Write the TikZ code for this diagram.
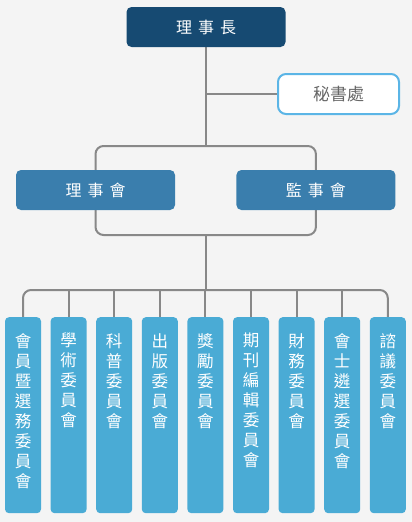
\documentclass[tikz,border=0pt]{standalone}
\usepackage{fontspec}
\setmainfont{Noto Sans CJK TC}
\usetikzlibrary{positioning}
\definecolor{navy}{HTML}{164A72}
\definecolor{council}{HTML}{3A7EAD}
\definecolor{cmte}{HTML}{4AABD5}
\definecolor{wirecol}{HTML}{888888}
\definecolor{paper}{HTML}{F4F4F4}
\definecolor{ring}{HTML}{5BB5E6}
\definecolor{ink}{HTML}{666666}
\pgfdeclarelayer{back}
\pgfsetlayers{back,main}
\tikzstyle{head}=[rectangle,rounded corners=5pt,fill=navy,text=white,minimum width=159pt,minimum height=40pt,font=\fontsize{16}{18}\selectfont]
\tikzstyle{board}=[head,fill=council]
\tikzstyle{office}=[rectangle,rounded corners=8pt,draw=ring,line width=2pt,fill=white,text=ink,minimum width=121pt,minimum height=40pt,font=\fontsize{17}{18}\selectfont]
\tikzstyle{cmtebox}=[rectangle,rounded corners=4pt,fill=cmte,text=white,inner sep=0pt,anchor=north,font=\fontsize{16.5}{20}\selectfont]
\tikzstyle{link}=[draw=wirecol,line width=2pt]
\newcommand{\gap}{\hspace{6pt}}
\newcommand{\vtxt}[1]{\parbox[t][196pt][t]{36pt}{\centering\vspace*{16pt}#1}}

\begin{document}
\begin{tikzpicture}[x=1pt,y=-1pt]
    \node[head] (chair) at (206,27) {理\gap 事\gap 長};
    \node[office] (sec) at (338.5,94) {秘書處};
    \node[board] (bod) at (95.5,190) {理\gap 事\gap 會};
    \node[board, right=61pt of bod] (sup) {監\gap 事\gap 會};
    \coordinate (top) at (206,146);
    \coordinate (bot) at (206,235);
    \coordinate (bus) at (206,290);
    \foreach \txt [count=\i] in {會\\員\\暨\\選\\務\\委\\員\\會, 學\\術\\委\\員\\會,
        科\\普\\委\\員\\會, 出\\版\\委\\員\\會, 獎\\勵\\委\\員\\會,
        期\\刊\\編\\輯\\委\\員\\會, 財\\務\\委\\員\\會,
        會\\士\\遴\\選\\委\\員\\會, 諮\\議\\委\\員\\會}
        \node[cmtebox] (c\i) at ({23+45.6*(\i-1)},317) {\vtxt{\txt}};
    \begin{pgfonlayer}{back}
        \fill[paper] (0,0) rectangle (412,522);
        \draw[link] (chair) -- (top);
        \draw[link] (chair.south |- sec) -- (sec);
        \draw[link, rounded corners=8pt] (top) -| (bod.center) |- (bot) -| (sup.center) |- (top);
        \draw[link] (bot) -- (bus);
        \draw[link, rounded corners=8pt] (c1.north) |- (bus) -| (c9.north);
        \foreach \i in {2,...,8}
            \draw[link] (c\i.north |- bus) -- (c\i.north);
    \end{pgfonlayer}
\end{tikzpicture}
\end{document}
